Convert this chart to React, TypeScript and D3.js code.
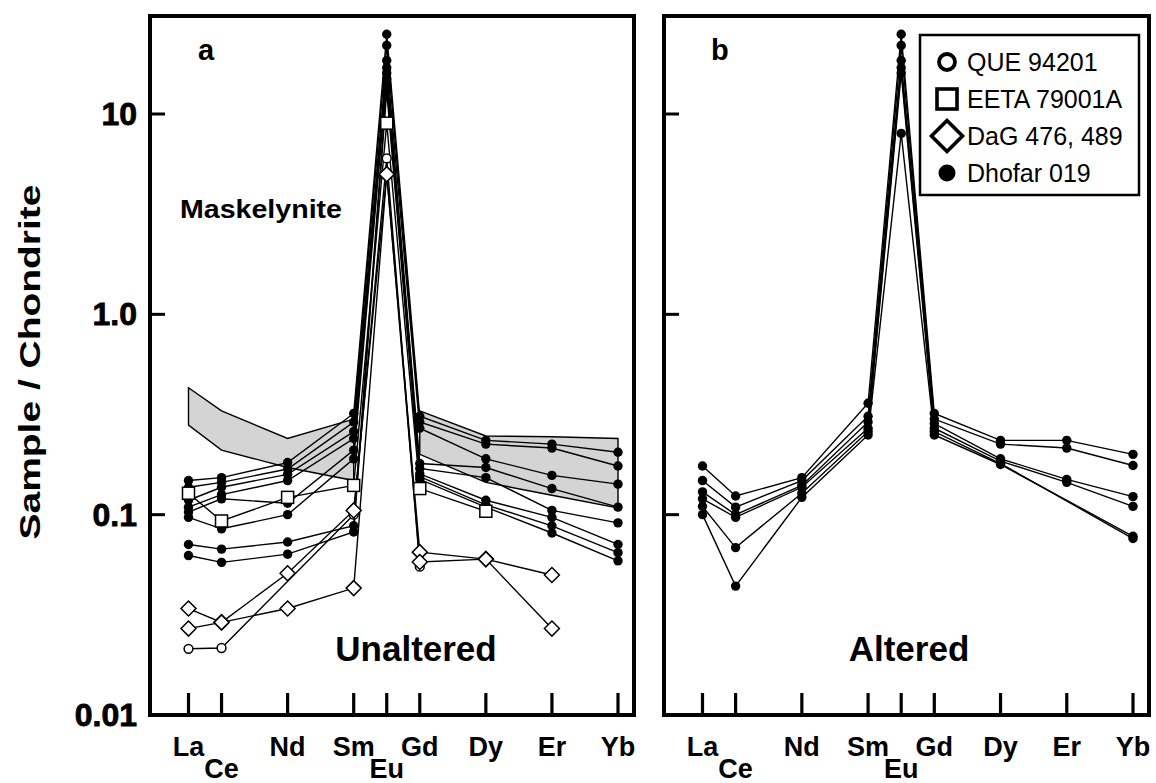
import React from 'react';
import * as d3 from 'd3';

// Rare earth elements along the x axis (atomic number sets spacing)
const ELEMENTS = ['La', 'Ce', 'Nd', 'Sm', 'Eu', 'Gd', 'Dy', 'Er', 'Yb'];
const ATOMIC = [57, 58, 60, 62, 63, 64, 66, 68, 70];
const LABEL_ROW = [0, 1, 0, 0, 1, 0, 0, 0, 0];

const Y_TICKS = [10, 1, 0.1, 0.01];
const Y_TICK_LABELS = ['10', '1.0', '0.1', '0.01'];

type Row = (number | null)[];

// Panel a (unaltered) – Dhofar 019 maskelynite
const dhofarA: Row[] = [
  [0.148, 0.153, 0.182, 0.32, 25, 0.31, 0.235, 0.225, 0.205],
  [0.137, 0.145, 0.169, 0.29, 22, 0.29, 0.225, 0.215, 0.175],
  [0.118, 0.137, 0.159, 0.26, 18.5, 0.27, 0.19, 0.157, 0.142],
  [0.109, 0.126, 0.148, 0.24, 17, 0.18, 0.172, 0.135, 0.109],
  [0.103, 0.12, 0.114, 0.21, 16, 0.17, 0.153, 0.105, 0.091],
  [0.097, 0.085, 0.1, 0.19, 15, 0.16, 0.118, 0.097, 0.071],
  [0.071, 0.0673, 0.073, 0.088, 14, 0.155, 0.112, 0.088, 0.0646],
  [0.0625, 0.0578, 0.0635, 0.082, 13, 0.15, 0.109, 0.081, 0.0588],
];
// EETA 79001A
const eetaA: Row[] = [
  [0.128, 0.093, 0.122, 0.14, 9.0, 0.135, 0.104, null, null],
];
// QUE 94201
const queA: Row[] = [
  [0.0214, 0.0216, null, 0.1, 6.0, 0.055, null, null, null],
];
// DaG 476, 489
const dagA: Row[] = [
  [0.034, 0.029, 0.051, 0.105, 5.0, 0.065, 0.06, 0.05, null],
  [0.027, 0.029, 0.034, 0.043, 5.0, 0.058, 0.06, 0.027, null],
];

// Shaded reference field in panel a (upper / lower bounds)
const FIELD_LEFT_EL = ['La', 'Ce', 'Nd', 'Sm'];
const FIELD_LEFT_UPPER = [0.43, 0.33, 0.24, 0.3];
const FIELD_LEFT_LOWER = [0.28, 0.21, 0.172, 0.148];
const FIELD_RIGHT_EL = ['Gd', 'Dy', 'Er', 'Yb'];
const FIELD_RIGHT_UPPER = [0.33, 0.247, 0.245, 0.24];
const FIELD_RIGHT_LOWER = [0.2, 0.145, 0.125, 0.108];

// Panel b (altered) – Dhofar 019 maskelynite
const dhofarB: Row[] = [
  [0.175, 0.124, 0.153, 0.36, 25, 0.32, 0.235, 0.235, 0.2],
  [0.148, 0.109, 0.148, 0.31, 22, 0.3, 0.225, 0.215, 0.176],
  [0.13, 0.1, 0.14, 0.29, 18.5, 0.285, 0.19, 0.15, 0.123],
  [0.12, 0.097, 0.137, 0.27, 17, 0.27, 0.185, 0.145, 0.11],
  [0.11, 0.0685, 0.128, 0.26, 16, 0.26, 0.18, null, 0.076],
  [0.1, 0.044, 0.122, 0.25, 8, 0.25, 0.178, null, 0.078],
];

const LEGEND = [
  { sym: 'circle', label: 'QUE 94201' },
  { sym: 'square', label: 'EETA 79001A' },
  { sym: 'diamond', label: 'DaG 476, 489' },
  { sym: 'dot', label: 'Dhofar 019' },
];

const FONT = '"Liberation Sans", Arial, Helvetica, sans-serif';
const W = 1156;
const H = 783;
const TOP = 16;
const BOTTOM = 715;

const y = d3.scaleLog().domain([0.01, 10]).range([BOTTOM, 114]);

const PANELS = [
  { id: 'a', left: 150, right: 634, note: 'Unaltered' },
  { id: 'b', left: 664, right: 1149, note: 'Altered' },
];

function makeX(left: number, right: number) {
  return d3.scaleLinear().domain([57, 70]).range([left + 38.5, right - 16]);
}

function Marker({ kind, cx, cy, big = false }: { kind: string; cx: number; cy: number; big?: boolean }) {
  if (kind === 'dot') return <circle cx={cx} cy={cy} r={big ? 8.5 : 4.7} fill="#000" />;
  if (kind === 'circle')
    return <circle cx={cx} cy={cy} r={big ? 8 : 4.4} fill="#fff" stroke="#000" strokeWidth={big ? 3.8 : 1.5} />;
  if (kind === 'square') {
    const h = big ? 10 : 6;
    return <rect x={cx - h} y={cy - h} width={2 * h} height={2 * h} fill="#fff" stroke="#000" strokeWidth={big ? 3.6 : 1.5} />;
  }
  const d = big ? 15.5 : 7.5;
  return (
    <path
      d={`M${cx},${cy - d}L${cx + d},${cy}L${cx},${cy + d}L${cx - d},${cy}Z`}
      fill="#fff"
      stroke="#000"
      strokeWidth={big ? 3.6 : 1.5}
    />
  );
}

function Series({ rows, x }: { rows: Row[]; x: d3.ScaleLinear<number, number> }) {
  const line = d3
    .line<[number, number]>()
    .x((d) => x(d[0]))
    .y((d) => y(d[1]));
  return (
    <g>
      {rows.map((r, i) => {
        const pts = r
          .map((v, j) => (v == null ? null : ([ATOMIC[j], v] as [number, number])))
          .filter((p): p is [number, number] => p !== null);
        return <path key={'l' + i} d={line(pts) || ''} fill="none" stroke="#000" strokeWidth={1.4} />;
      })}
    </g>
  );
}

function SeriesMarks({ rows, kind, x }: { rows: Row[]; kind: string; x: d3.ScaleLinear<number, number> }) {
  return (
    <g>
      {rows.map((r, i) =>
        r.map((v, j) =>
          v == null ? null : <Marker key={`${i}-${j}`} kind={kind} cx={x(ATOMIC[j])} cy={y(v)} />
        )
      )}
    </g>
  );
}

function Field({ x }: { x: d3.ScaleLinear<number, number> }) {
  const area = d3
    .area<[number, number, number]>()
    .x((d) => x(d[0]))
    .y0((d) => y(d[1]))
    .y1((d) => y(d[2]));
  const at = (el: string) => ATOMIC[ELEMENTS.indexOf(el)];
  const left = FIELD_LEFT_EL.map((e, i) => [at(e), FIELD_LEFT_LOWER[i], FIELD_LEFT_UPPER[i]] as [number, number, number]);
  const right = FIELD_RIGHT_EL.map((e, i) => [at(e), FIELD_RIGHT_LOWER[i], FIELD_RIGHT_UPPER[i]] as [number, number, number]);
  return (
    <g>
      <path d={area(left) || ''} fill="#d4d4d4" stroke="#000" strokeWidth={1.4} />
      <path d={area(right) || ''} fill="#d4d4d4" stroke="#000" strokeWidth={1.4} />
    </g>
  );
}

function Frame({ left, right, x }: { left: number; right: number; x: d3.ScaleLinear<number, number> }) {
  return (
    <g>
      {Y_TICKS.slice(0, 3).map((t) => (
        <line key={t} x1={left} x2={left + 15} y1={y(t)} y2={y(t)} stroke="#000" strokeWidth={3} />
      ))}
      {ATOMIC.map((a) => (
        <line key={a} x1={x(a)} x2={x(a)} y1={BOTTOM - 22} y2={BOTTOM} stroke="#000" strokeWidth={3.2} />
      ))}
      <rect x={left} y={TOP} width={right - left} height={BOTTOM - TOP} fill="none" stroke="#000" strokeWidth={4} />
      {ELEMENTS.map((el, i) => (
        <text
          key={el}
          x={x(ATOMIC[i])}
          y={LABEL_ROW[i] === 0 ? 756 : 778}
          textAnchor="middle"
          fontFamily={FONT}
          fontWeight="bold"
          fontSize={27}
        >
          {el}
        </text>
      ))}
    </g>
  );
}

export default function App() {
  const xa = makeX(PANELS[0].left, PANELS[0].right);
  const xb = makeX(PANELS[1].left, PANELS[1].right);
  return (
    <svg
      width={W}
      height={H}
      viewBox={`0 0 ${W} ${H}`}
      style={{ position: 'absolute', left: 0, top: 0, background: '#fff' }}
    >
      <rect width={W} height={H} fill="#fff" />

      {/* y axis */}
      <text
        transform="translate(40,362) rotate(-90)"
        textAnchor="middle"
        fontFamily={FONT}
        fontWeight="bold"
        fontSize={30}
        textLength={355}
        lengthAdjust="spacingAndGlyphs"
      >
        Sample / Chondrite
      </text>
      {Y_TICKS.map((t, i) => (
        <text
          key={t}
          x={137}
          y={y(t) + 11}
          textAnchor="end"
          fontFamily={FONT}
          fontWeight="bold"
          fontSize={32}
          stroke="#000"
          strokeWidth={0.8}
        >
          {Y_TICK_LABELS[i]}
        </text>
      ))}

      {/* panel a */}
      <g>
        <Field x={xa} />
        <Series rows={dhofarA} x={xa} />
        <Series rows={eetaA} x={xa} />
        <Series rows={dagA} x={xa} />
        <Series rows={queA} x={xa} />
        <SeriesMarks rows={dhofarA} kind="dot" x={xa} />
        <SeriesMarks rows={eetaA} kind="square" x={xa} />
        <SeriesMarks rows={queA} kind="circle" x={xa} />
        <SeriesMarks rows={dagA} kind="diamond" x={xa} />
        <Frame left={PANELS[0].left} right={PANELS[0].right} x={xa} />
        <text x={198} y={60} fontFamily={FONT} fontWeight="bold" fontSize={29}>a</text>
        <text x={180} y={218} fontFamily={FONT} fontWeight="bold" fontSize={26} textLength={162} lengthAdjust="spacingAndGlyphs">
          Maskelynite
        </text>
        <text x={416} y={661} textAnchor="middle" fontFamily={FONT} fontWeight="bold" fontSize={35}>
          Unaltered
        </text>
      </g>

      {/* panel b */}
      <g>
        <Series rows={dhofarB} x={xb} />
        <SeriesMarks rows={dhofarB} kind="dot" x={xb} />
        <Frame left={PANELS[1].left} right={PANELS[1].right} x={xb} />
        <text x={711} y={60} fontFamily={FONT} fontWeight="bold" fontSize={29}>b</text>
        <text x={909} y={661} textAnchor="middle" fontFamily={FONT} fontWeight="bold" fontSize={35}>
          Altered
        </text>
      </g>

      {/* legend */}
      <g>
        <rect x={920} y={35} width={219} height={160} fill="#fff" stroke="#000" strokeWidth={2.5} />
        {LEGEND.map((d, i) => {
          const cy = 62 + i * 37;
          return (
            <g key={d.label}>
              <Marker kind={d.sym} cx={947} cy={cy} big />
              <text x={967} y={cy + 9} fontFamily={FONT} fontSize={25}>
                {d.label}
              </text>
            </g>
          );
        })}
      </g>
    </svg>
  );
}
